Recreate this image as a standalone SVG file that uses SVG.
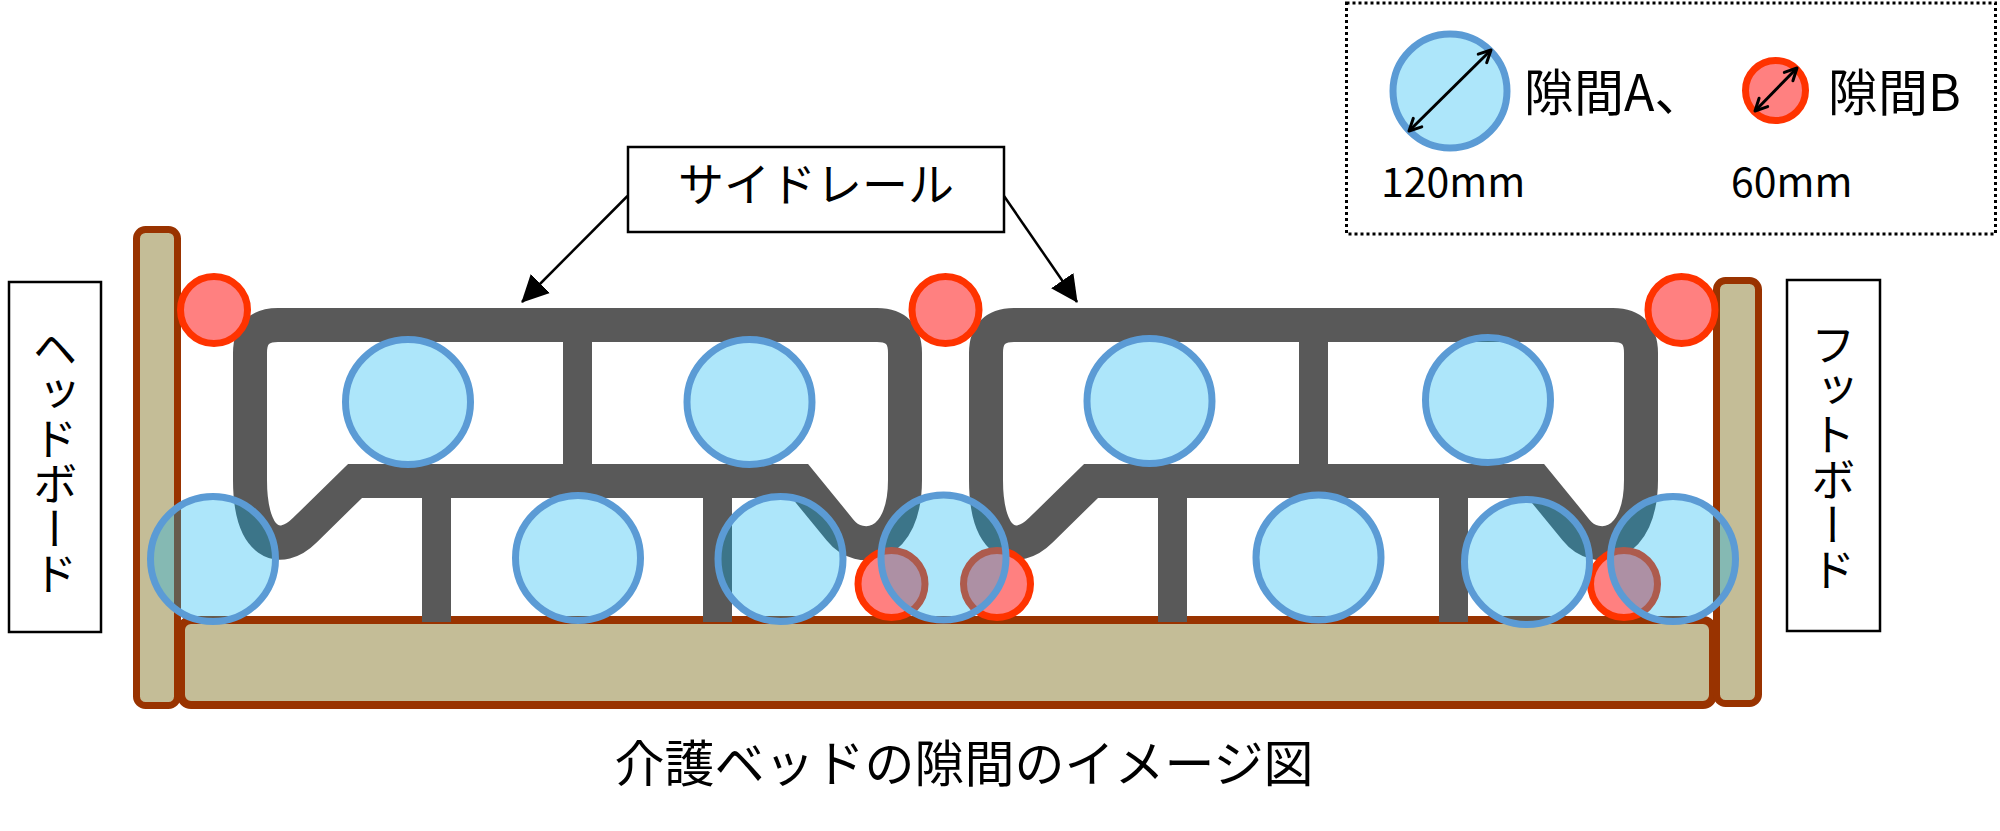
<svg xmlns="http://www.w3.org/2000/svg" width="2000" height="831" viewBox="0 0 2000 831">
<style>
.wood{fill:#C4BD97;stroke:#993300;stroke-width:7}
.rail{fill:none;stroke:#595959;stroke-width:34;stroke-linejoin:miter}
.bar{fill:#595959}
.gapA{fill:#00B0F0;fill-opacity:0.32;stroke:#5B9BD5;stroke-width:7}
.gapB{fill:#FF8080;stroke:#FF3300;stroke-width:7}
.box{fill:#FFFFFF;stroke:#000000;stroke-width:2.5}
.txt{font-family:'Noto Sans CJK JP','Noto Sans',sans-serif;fill:#000000}
.vtxt{writing-mode:vertical-rl;text-anchor:middle;font-size:45px}
.call{stroke:#000000;stroke-width:2.5;fill:none}
.dim{stroke:#000000;stroke-width:3;fill:none}
</style>
<defs>
<marker id="tri" markerUnits="userSpaceOnUse" viewBox="0 0 27 27" markerWidth="27" markerHeight="27" refX="26" refY="13.5" orient="auto">
<path d="M0,0 L27,13.5 L0,27 Z" fill="#000000"/>
</marker>
<marker id="open" markerUnits="userSpaceOnUse" viewBox="0 0 16 16" markerWidth="16" markerHeight="16" refX="14" refY="8" orient="auto-start-reverse">
<path d="M2,2 L14,8 L2,14" fill="none" stroke="#000000" stroke-width="3" stroke-linecap="round" stroke-linejoin="round"/>
</marker>
<g id="railShape">
<path class="rail" d="M250,480 L250,353 Q250,325 278,325 L877,325 Q905,325 905,353 L905,480 C905,548 860,555 840,530 L800,481 L355,481 L305,530 C280,555 250,545 250,480 Z"/>
<rect class="bar" x="563" y="330" width="29" height="150"/>
<rect class="bar" x="422" y="485" width="29" height="137"/>
<rect class="bar" x="703" y="485" width="29" height="137"/>
</g>
</defs>

<g id="bed">
<rect id="base" class="wood" x="181" y="620" width="1532" height="85" rx="10" style="stroke-width:8"/>
<rect id="headpost" class="wood" x="136.5" y="229.5" width="41" height="476" rx="9"/>
<rect id="footpost" class="wood" x="1716.5" y="280.5" width="42" height="423" rx="9"/>
</g>

<g id="siderail-1"><use href="#railShape"/></g>
<g id="siderail-2"><use href="#railShape" transform="translate(736,0)"/></g>

<g id="gaps-B">
<circle class="gapB" cx="214" cy="310" r="33.5"/>
<circle class="gapB" cx="945.5" cy="310" r="33.5"/>
<circle class="gapB" cx="1681.5" cy="310" r="33.5"/>
<circle class="gapB" cx="891.5" cy="584" r="33.5"/>
<circle class="gapB" cx="997" cy="584" r="33.5"/>
<circle class="gapB" cx="1624" cy="584" r="33.5"/>
</g>

<g id="gaps-A">
<circle class="gapA" cx="408" cy="402" r="62.5"/>
<circle class="gapA" cx="749.5" cy="402" r="62.5"/>
<circle class="gapA" cx="1149.5" cy="401" r="62.5"/>
<circle class="gapA" cx="1488" cy="400" r="62.5"/>
<circle class="gapA" cx="213" cy="559" r="62.5"/>
<circle class="gapA" cx="578" cy="558" r="62.5"/>
<circle class="gapA" cx="780.5" cy="559" r="62.5"/>
<circle class="gapA" cx="943.5" cy="557.5" r="62.5"/>
<circle class="gapA" cx="1318.5" cy="557.5" r="62.5"/>
<circle class="gapA" cx="1527" cy="562" r="62.5"/>
<circle class="gapA" cx="1673" cy="559" r="62.5"/>
</g>

<g id="label-headboard">
<rect class="box" x="9" y="282" width="92" height="350"/>
<text class="txt vtxt" x="55" y="461">ヘッドボード</text>
</g>

<g id="label-footboard">
<rect class="box" x="1787" y="280" width="93" height="351"/>
<text class="txt vtxt" x="1833" y="457">フットボード</text>
</g>

<g id="label-siderail">
<rect class="box" x="628" y="147" width="376" height="85"/>
<text class="txt" x="816" y="201" font-size="46" text-anchor="middle">サイドレール</text>
</g>

<g id="connectors">
<line class="call" x1="627.5" y1="196" x2="522" y2="302" marker-end="url(#tri)"/>
<line class="call" x1="1004" y1="196" x2="1077" y2="302" marker-end="url(#tri)"/>
</g>

<g id="legend">
<rect x="1346.5" y="3" width="649" height="231" fill="none" stroke="#000000" stroke-width="3" stroke-dasharray="3 3"/>
<circle class="gapA" cx="1450" cy="91" r="57"/>
<line class="dim" x1="1409" y1="131" x2="1491" y2="50" marker-start="url(#open)" marker-end="url(#open)"/>
<text class="txt" x="1524" y="111" font-size="50">隙間A、</text>
<text class="txt" x="1381" y="197" font-size="41">120mm</text>
<circle class="gapB" cx="1775.5" cy="90.5" r="30"/>
<line class="dim" x1="1755" y1="111" x2="1797" y2="68" marker-start="url(#open)" marker-end="url(#open)"/>
<text class="txt" x="1828" y="111" font-size="50">隙間B</text>
<text class="txt" x="1731" y="197" font-size="41">60mm</text>
</g>

<g id="caption">
<text class="txt" x="964" y="782" font-size="50" text-anchor="middle">介護ベッドの隙間のイメージ図</text>
</g>
</svg>
